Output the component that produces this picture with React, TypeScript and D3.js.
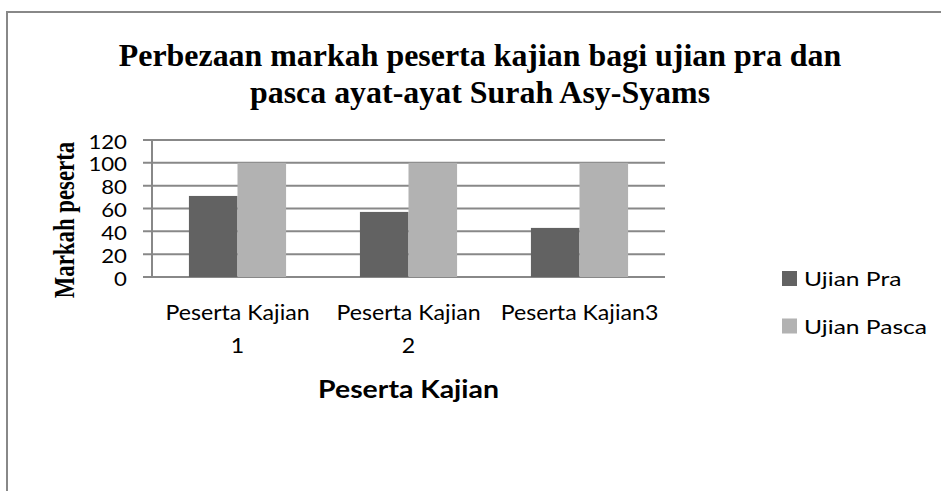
import React, { useEffect, useRef } from 'react'
import * as d3 from 'd3'

const categories = ['Peserta Kajian 1', 'Peserta Kajian 2', 'Peserta Kajian3']
const categoryLines = [['Peserta Kajian', '1'], ['Peserta Kajian', '2'], ['Peserta Kajian3']]
const seriesNames = ['Ujian Pra', 'Ujian Pasca']
const ujianPra = [71, 57, 43]
const ujianPasca = [100, 100, 100]
const yTicks = [0, 20, 40, 60, 80, 100, 120]
const colors = ['#626262', '#b2b2b2']

const W = 941
const H = 491
const labelFont = "Lato, 'Open Sans', sans-serif"
const titleFont = "'Liberation Serif', 'Times New Roman', serif"
// the source picture is a bit stretched sideways, so text gets a horizontal scale
const SX = 1.2

export default function App() {
  const ref = useRef<SVGSVGElement>(null)

  useEffect(() => {
    const svg = d3.select(ref.current)
    svg.selectAll('*').remove()

    const margin = { left: 152, right: 276, top: 140, bottom: 214 }
    const x0 = d3.scaleBand().domain(categories).range([margin.left, W - margin.right]).paddingInner(0).paddingOuter(0)
    const x1 = d3.scaleBand().domain(seriesNames).range([0, x0.bandwidth()]).paddingInner(0).paddingOuter(0.76)
    const y = d3.scaleLinear().domain([0, 120]).range([H - margin.bottom, margin.top])

    const label = (g: any, x: number, yy: number, txt: string, size: number, anchor: string, bold = false, font = labelFont, sx = SX) =>
      g.append('text')
        .attr('transform', `translate(${x},${yy}) scale(${sx},1)`)
        .attr('text-anchor', anchor)
        .attr('font-family', font)
        .attr('font-weight', bold ? 'bold' : 'normal')
        .attr('font-size', size)
        .attr('fill', '#000')
        .text(txt)

    // frame
    svg.append('path')
      .attr('d', `M7,${H + 5} V12 H${W + 5}`)
      .attr('fill', 'none')
      .attr('stroke', '#888')
      .attr('stroke-width', 2)

    // title
    label(svg, 480, 66, 'Perbezaan markah peserta kajian bagi ujian pra dan', 31, 'middle', true, titleFont, 1.03)
    label(svg, 480, 103, 'pasca ayat-ayat Surah Asy-Syams', 31, 'middle', true, titleFont, 1.03)

    // grid + y ticks
    svg.append('g')
      .selectAll('line')
      .data(yTicks)
      .join('line')
      .attr('x1', margin.left - 9)
      .attr('x2', W - margin.right)
      .attr('y1', d => y(d))
      .attr('y2', d => y(d))
      .attr('stroke', '#888')
      .attr('stroke-width', 2)

    svg.append('line')
      .attr('x1', margin.left).attr('x2', margin.left)
      .attr('y1', y(120)).attr('y2', y(0))
      .attr('stroke', '#888').attr('stroke-width', 2)

    const yl = svg.append('g')
    yTicks.forEach(t => label(yl, 127, y(t) + 8.5, String(t), 18.5, 'end'))

    // bars
    const groups = svg.append('g')
      .selectAll('g')
      .data(categories)
      .join('g')
      .attr('transform', d => `translate(${x0(d)},0)`)
    groups.selectAll('rect')
      .data((d, i) => [
        { key: seriesNames[0], value: ujianPra[i] },
        { key: seriesNames[1], value: ujianPasca[i] },
      ])
      .join('rect')
      .attr('x', d => x1(d.key)!)
      .attr('width', x1.bandwidth())
      .attr('y', d => y(d.value))
      .attr('height', d => y(0) - y(d.value))
      .attr('fill', (d, i) => colors[i])

    // x labels
    const xl = svg.append('g')
    categories.forEach((c, i) => {
      categoryLines[i].forEach((line, j) => {
        label(xl, x0(c)! + x0.bandwidth() / 2, 320 + j * 33, line, 20.5, 'middle', false, labelFont, 1.13)
      })
    })

    // axis titles
    label(svg, (margin.left + W - margin.right) / 2, 398, 'Peserta Kajian', 24.5, 'middle', true, labelFont, 1.16)

    svg.append('text')
      .attr('transform', 'translate(74,220) rotate(-90) scale(0.95,1.22)')
      .attr('text-anchor', 'middle')
      .attr('font-family', titleFont)
      .attr('font-weight', 'bold')
      .attr('font-size', 24)
      .text('Markah peserta')

    // legend
    const lg = svg.append('g')
      .selectAll('g')
      .data(seriesNames)
      .join('g')
      .attr('transform', (d, i) => `translate(782,${278.5 + i * 47.5})`)
    lg.append('rect')
      .attr('x', 0).attr('y', -7.5)
      .attr('width', 15).attr('height', 15)
      .attr('fill', (d, i) => colors[i])
    lg.each(function (d) {
      label(d3.select(this), 22, 7.5, d as string, 20, 'start', false, labelFont, 1.23)
    })
  }, [])

  return (
    <svg ref={ref} width={W} height={H} style={{ position: 'absolute', left: 0, top: 0, background: '#fff' }} />
  )
}
